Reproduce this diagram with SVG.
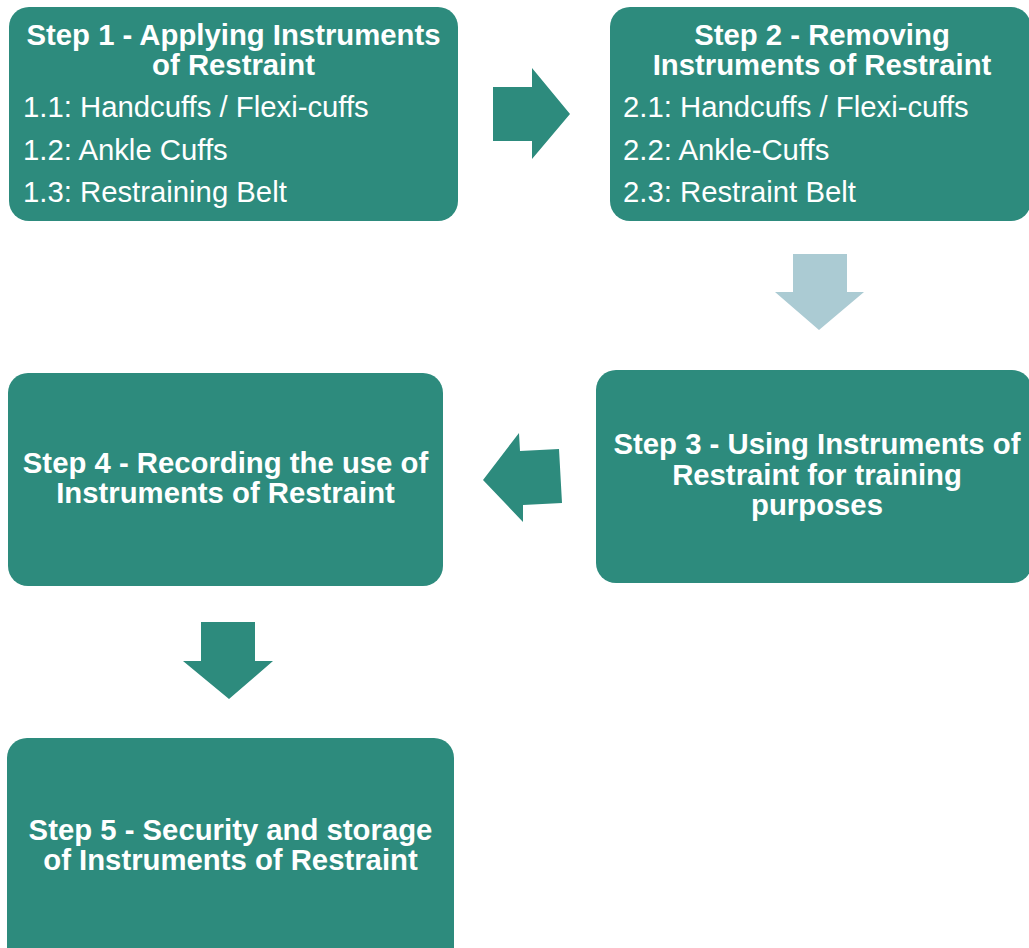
<svg xmlns="http://www.w3.org/2000/svg" width="1029" height="948" viewBox="0 0 1029 948">
<style>
.box{fill:#2d8b7d}
.t{font-family:"Liberation Sans",Arial,sans-serif;font-size:29.3px;fill:#ffffff}
.b{font-weight:bold;text-anchor:middle}
.arr{fill:#2d8b7d}
.arrl{fill:#abcbd3}
</style>
<rect width="1029" height="948" fill="#ffffff"/>
<g id="step1">
<rect class="box" x="9" y="7" width="449" height="214" rx="20"/>
<text class="t b" x="233.5" y="44.5">Step 1 - Applying Instruments</text>
<text class="t b" x="233.5" y="74.5">of Restraint</text>
<text class="t" x="23" y="117">1.1: Handcuffs / Flexi-cuffs</text>
<text class="t" x="23" y="160">1.2: Ankle Cuffs</text>
<text class="t" x="23" y="202">1.3: Restraining Belt</text>
</g>
<g id="step2">
<rect class="box" x="610" y="7" width="421" height="214" rx="20"/>
<text class="t b" x="822" y="44.5">Step 2 - Removing</text>
<text class="t b" x="822" y="74.5">Instruments of Restraint</text>
<text class="t" x="623" y="117">2.1: Handcuffs / Flexi-cuffs</text>
<text class="t" x="623" y="160">2.2: Ankle-Cuffs</text>
<text class="t" x="623" y="202">2.3: Restraint Belt</text>
</g>
<g id="step3">
<rect class="box" x="596" y="370" width="436" height="213" rx="20"/>
<text class="t b" x="817" y="454">Step 3 - Using Instruments of</text>
<text class="t b" x="817" y="485">Restraint for training</text>
<text class="t b" x="817" y="515">purposes</text>
</g>
<g id="step4">
<rect class="box" x="8" y="373" width="435" height="213" rx="20"/>
<text class="t b" x="225.5" y="473">Step 4 - Recording the use of</text>
<text class="t b" x="225.5" y="503">Instruments of Restraint</text>
</g>
<g id="step5">
<rect class="box" x="7" y="738" width="447" height="230" rx="20"/>
<text class="t b" x="230.5" y="839.5">Step 5 - Security and storage</text>
<text class="t b" x="230.5" y="869.5">of Instruments of Restraint</text>
</g>
<g id="connectors">
<polygon class="arr" points="493,87 532,87 532,68 570,114 532,159 532,141 493,141"/>
<polygon class="arrl" points="793,254 847,254 847,292 864,292 819,330 775,292 793,292"/>
<polygon class="arr" points="483,480 519,433 520,451 559,449 562,503 523,505 523,522"/>
<polygon class="arr" points="201,622 255,622 255,661 273,661 229,699 183,661 201,661"/>
</g>
</svg>
